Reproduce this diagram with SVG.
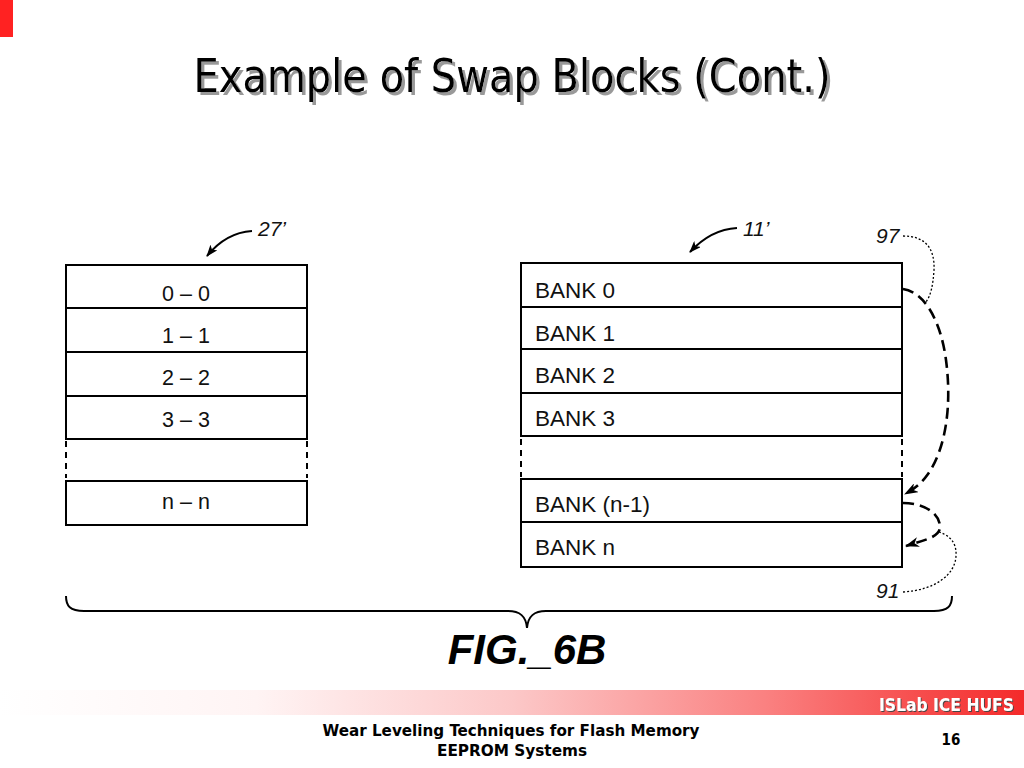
<svg xmlns="http://www.w3.org/2000/svg" width="1024" height="768" viewBox="0 0 1024 768">
<defs>
<linearGradient id="bar" x1="0" y1="0" x2="1" y2="0">
<stop offset="0" stop-color="#ffffff"/>
<stop offset="0.25" stop-color="#fff4f4"/>
<stop offset="0.5" stop-color="#fcc8c8"/>
<stop offset="0.75" stop-color="#fa8080"/>
<stop offset="1" stop-color="#f42a2a"/>
</linearGradient>
<filter id="shadow" x="-5%" y="-20%" width="110%" height="140%">
<feOffset in="SourceAlpha" dx="3" dy="3" result="o"/>
<feFlood flood-color="#999"/>
<feComposite in2="o" operator="in" result="s"/>
<feMerge><feMergeNode in="s"/><feMergeNode in="SourceGraphic"/></feMerge>
</filter>
<filter id="dshadow" x="-5%" y="-20%" width="110%" height="140%">
<feOffset in="SourceAlpha" dx="1" dy="1" result="o"/>
<feFlood flood-color="#444"/>
<feComposite in2="o" operator="in" result="s"/>
<feMerge><feMergeNode in="s"/><feMergeNode in="SourceGraphic"/></feMerge>
</filter>
<marker id="ah" viewBox="0 0 14 10" refX="13" refY="5" markerWidth="14" markerHeight="10" markerUnits="userSpaceOnUse" orient="auto">
<path d="M0,0 L14,5 L0,10 L4,5 Z" fill="#000"/>
</marker>
<marker id="ahs" viewBox="0 0 12 9" refX="11" refY="4.5" markerWidth="12" markerHeight="9" markerUnits="userSpaceOnUse" orient="auto">
<path d="M0,0 L12,4.5 L0,9 L3,4.5 Z" fill="#000"/>
</marker>
</defs>
<style>
.row{fill:#fff;stroke:#000;stroke-width:2}
.gap{fill:none;stroke:#000;stroke-width:2;stroke-dasharray:6 5}
.lbl{font-family:"Liberation Sans",Arial,sans-serif;font-size:21.5px;fill:#111}
.bank{font-family:"Liberation Sans",Arial,sans-serif;font-size:22.5px;fill:#111}
.ref{font-family:"Liberation Sans",Arial,sans-serif;font-style:italic;font-size:21px;fill:#111}
.dash{fill:none;stroke:#000;stroke-width:2.6;stroke-dasharray:11 6}
.dot{fill:none;stroke:#000;stroke-width:1.3;stroke-dasharray:2 2}
.lead{fill:none;stroke:#000;stroke-width:2}
.title{font-family:"DejaVu Sans Condensed","DejaVu Sans",sans-serif;font-size:46px}
.foot{font-family:"DejaVu Sans Condensed","DejaVu Sans",sans-serif;font-weight:bold;font-size:15px;fill:#000}
</style>
<rect width="1024" height="768" fill="#fff"/>
<rect x="0" y="0" width="13" height="37" fill="#f22"/>
<g id="title">
<text x="512" y="92" class="title" text-anchor="middle" fill="#000" filter="url(#shadow)" textLength="637" lengthAdjust="spacingAndGlyphs">Example of Swap Blocks (Cont.)</text>
</g>
<g id="left-table">
<g id="l0"><rect class="row" x="66" y="265" width="241" height="43"/><text class="lbl" x="186" y="301" text-anchor="middle">0 – 0</text></g>
<g id="l1"><rect class="row" x="66" y="308" width="241" height="44"/><text class="lbl" x="186" y="343" text-anchor="middle">1 – 1</text></g>
<g id="l2"><rect class="row" x="66" y="352" width="241" height="44"/><text class="lbl" x="186" y="385" text-anchor="middle">2 – 2</text></g>
<g id="l3"><rect class="row" x="66" y="396" width="241" height="43"/><text class="lbl" x="186" y="427" text-anchor="middle">3 – 3</text></g>
<g id="lgap"><path class="gap" d="M66,441 V478 M307,441 V478"/></g>
<g id="ln"><rect class="row" x="66" y="481" width="241" height="44"/><text class="lbl" x="186" y="509" text-anchor="middle">n – n</text></g>
<g id="ref27"><text class="ref" x="258" y="236">27’</text></g>
</g>
<g id="right-table">
<g id="b0"><rect class="row" x="521" y="263" width="381" height="44"/><text class="bank" x="535" y="298">BANK 0</text></g>
<g id="b1"><rect class="row" x="521" y="307" width="381" height="42"/><text class="bank" x="535" y="341">BANK 1</text></g>
<g id="b2"><rect class="row" x="521" y="349" width="381" height="44"/><text class="bank" x="535" y="383">BANK 2</text></g>
<g id="b3"><rect class="row" x="521" y="393" width="381" height="43"/><text class="bank" x="535" y="426">BANK 3</text></g>
<g id="bgap"><path class="gap" d="M521,439 V477 M902,439 V477"/></g>
<g id="bn1"><rect class="row" x="521" y="479" width="381" height="43"/><text class="bank" x="535" y="512">BANK (n-1)</text></g>
<g id="bn"><rect class="row" x="521" y="522" width="381" height="45"/><text class="bank" x="535" y="555">BANK n</text></g>
<g id="ref11"><text class="ref" x="743" y="236">11’</text></g>
<g id="ref97"><text class="ref" x="876" y="243">97</text></g>
<g id="ref91"><text class="ref" x="876" y="598">91</text></g>
</g>
<g id="connectors">
<path class="lead" d="M252,231 C236,232 220,240 207,256" marker-end="url(#ahs)"/>
<path class="lead" d="M737,228 C718,229 703,238 690,252" marker-end="url(#ahs)"/>
<path class="dash" d="M903,289 C925,292 941,322 946,360 C952,405 946,448 928,474 C921,484 914,489 905,494" marker-end="url(#ah)"/>
<path class="dash" d="M903,503 C925,503 940,514 940,527 C940,537 925,540 906,546" marker-end="url(#ah)"/>
<path class="dot" d="M903,236 C925,236 935,248 934,270 C933,285 931,295 926,302"/>
<path class="dot" d="M903,592 C935,590 955,575 956,556 C957,541 948,535 939,532"/>
</g>
<g id="brace">
<path class="lead" d="M66,596 C66,606 70,611 84,611 L508,611 C520,611 526,616 527,628 C528,616 534,611 546,611 L934,611 C948,611 952,606 952,596"/>
<text x="527" y="664" text-anchor="middle" font-family="Liberation Sans, Arial, sans-serif" font-weight="bold" font-style="italic" font-size="42" fill="#000">FIG._6B</text>
</g>
<g id="footer">
<rect x="0" y="690" width="1024" height="25" fill="url(#bar)"/>
<text x="1014" y="711" text-anchor="end" font-family="DejaVu Sans Condensed, DejaVu Sans, sans-serif" font-weight="bold" font-size="17" fill="#fff" filter="url(#dshadow)" textLength="135" lengthAdjust="spacingAndGlyphs">ISLab ICE HUFS</text>
<text class="foot" x="511" y="736" text-anchor="middle" textLength="377" lengthAdjust="spacingAndGlyphs">Wear Leveling Techniques for Flash Memory</text>
<text class="foot" x="512" y="756" text-anchor="middle" textLength="150" lengthAdjust="spacingAndGlyphs">EEPROM Systems</text>
<text class="foot" x="951" y="745" text-anchor="middle">16</text>
</g>
</svg>
